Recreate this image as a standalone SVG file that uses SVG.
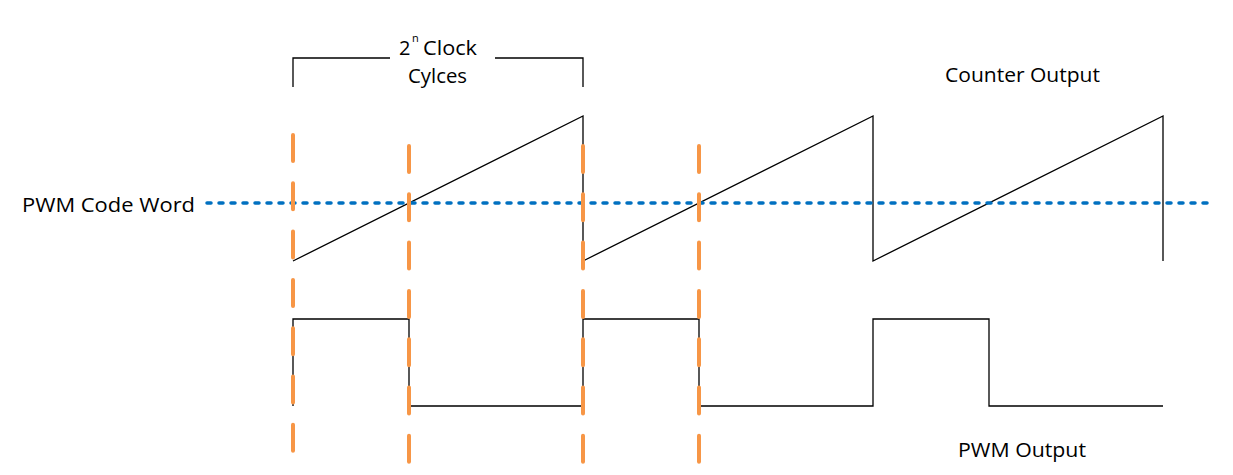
<svg xmlns="http://www.w3.org/2000/svg" width="1233" height="475" viewBox="0 0 1233 475">
<style>
.t{font-family:"Open Sans","Noto Sans","DejaVu Sans",sans-serif;font-size:20px;fill:#000}
.k{fill:none;stroke:#000;stroke-width:1.3}
.o{fill:none;stroke:#F79646;stroke-width:4;stroke-linecap:round;stroke-dasharray:26 22.3}
.b{fill:none;stroke:#0070C0;stroke-width:3.5;stroke-linecap:round;stroke-dasharray:4 8}
</style>
<rect width="1233" height="475" fill="#fff"/>
<g id="bracket">
<path class="k" d="M293,87 V58 H390 M495,58 H583 V87"/>
<text class="t" x="399" y="55">2</text>
<text class="t" x="412" y="42" style="font-size:11px">n</text>
<text class="t" x="423" y="55" textLength="54" lengthAdjust="spacingAndGlyphs">Clock</text>
<text class="t" x="408" y="83" textLength="59" lengthAdjust="spacingAndGlyphs">Cylces</text>
</g>
<g id="labels">
<text class="t" x="945" y="82" textLength="155" lengthAdjust="spacingAndGlyphs">Counter Output</text>
<text class="t" x="22" y="212" textLength="173" lengthAdjust="spacingAndGlyphs">PWM Code Word</text>
<text class="t" x="958" y="457" textLength="128" lengthAdjust="spacingAndGlyphs">PWM Output</text>
</g>
<g id="counter-output">
<path class="k" d="M293,261 L583,116 V261 L873,116 V261 L1163,116 V261"/>
</g>
<g id="pwm-output">
<path class="k" d="M293,406 V319 H409 V406 H583 V319 H699 V406 H873 V319 H989 V406 H1163"/>
</g>
<g id="code-word">
<line class="b" x1="207" y1="203" x2="1213" y2="203"/>
</g>
<g id="connectors">
<line class="o" x1="293" y1="135" x2="293" y2="455"/>
<line class="o" x1="409" y1="146" x2="409" y2="466"/>
<line class="o" x1="583" y1="146" x2="583" y2="466"/>
<line class="o" x1="699" y1="146" x2="699" y2="466"/>
</g>
</svg>
